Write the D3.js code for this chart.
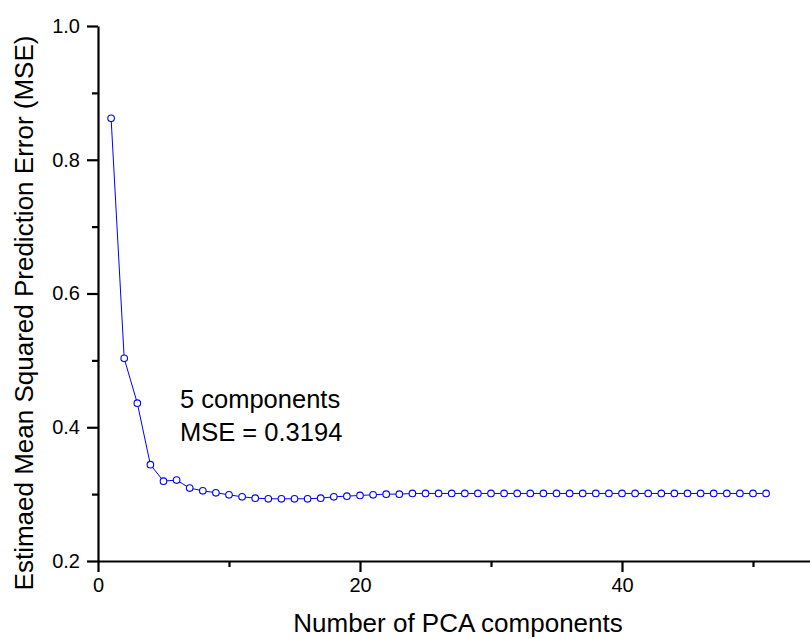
<!DOCTYPE html>
<html>
<head>
<meta charset="utf-8">
<script src="https://cdn.jsdelivr.net/npm/d3@7"></script>
<style>
  body { margin: 0; background: #fff; }
  text { font-family: "Liberation Sans", Arial, sans-serif; fill: #000; }
</style>
</head>
<body>
<div id="container"></div>
<script>
// number of PCA components, 1..51
let components = [];
for (let i = 1; i <= 51; i++) components.push(i);

// estimated MSE
let mseValues = [
  0.862, 0.503, 0.436, 0.344, 0.3194, 0.321, 0.309, 0.305, 0.302, 0.299,
  0.296, 0.294, 0.293, 0.293, 0.293, 0.293, 0.294, 0.296, 0.297, 0.298,
  0.299, 0.300, 0.300, 0.301, 0.301, 0.301, 0.301, 0.301, 0.301, 0.301,
  0.301, 0.301, 0.301, 0.301, 0.301, 0.301, 0.301, 0.301, 0.301, 0.301,
  0.301, 0.301, 0.301, 0.301, 0.301, 0.301, 0.301, 0.301, 0.301, 0.301,
  0.301
];

let xMajorTicks = [0, 20, 40];
let xMinorTicks = [10, 30, 50];
let yMajorTicks = [0.2, 0.4, 0.6, 0.8, 1.0];
let yMinorTicks = [0.3, 0.5, 0.7, 0.9];

let annotation = ["5 components", "MSE = 0.3194"];

let w = 810;
let h = 639;

let data = components.map((c, i) => ({ x: c, y: mseValues[i] }));

let viz = d3.select("#container")
  .append("svg")
  .attr("width", w)
  .attr("height", h);

let x = d3.scaleLinear().domain([0, 55]).range([98, 98 + 55 * 13.1]);
let y = d3.scaleLinear().domain([0.2, 1.0]).range([561, 26]);

// axes
viz.append("g")
  .attr("transform", "translate(0,561)")
  .call(d3.axisBottom(x).tickValues(xMinorTicks).tickSize(6).tickFormat(""))
  .call(g => g.select(".domain").remove());

viz.append("g")
  .attr("transform", "translate(0,561)")
  .call(d3.axisBottom(x).tickValues(xMajorTicks).tickSize(11).tickSizeOuter(0).tickPadding(6).tickFormat(d3.format("d")))
  .call(g => g.selectAll("text").attr("font-size", 20).attr("font-family", null));

viz.append("g")
  .attr("transform", "translate(98,0)")
  .call(d3.axisLeft(y).tickValues(yMinorTicks).tickSize(6).tickFormat(""))
  .call(g => g.select(".domain").remove());

viz.append("g")
  .attr("transform", "translate(98,0)")
  .call(d3.axisLeft(y).tickValues(yMajorTicks).tickSize(11).tickSizeOuter(0).tickPadding(7).tickFormat(d3.format(".1f")))
  .call(g => g.selectAll("text").attr("font-size", 20).attr("font-family", null));

viz.selectAll(".domain, .tick line")
  .attr("stroke", "#000")
  .attr("stroke-width", 2.2);

// line and markers
let line = d3.line().x(d => x(d.x)).y(d => y(d.y));

viz.append("path")
  .datum(data)
  .attr("d", line)
  .attr("fill", "none")
  .attr("stroke", "#0000ff")
  .attr("stroke-width", 1);

viz.selectAll(".pt").data(data).enter()
  .append("circle")
  .attr("class", "pt")
  .attr("cx", d => x(d.x))
  .attr("cy", d => y(d.y))
  .attr("r", 3.3)
  .attr("fill", "#fff")
  .attr("stroke", "#0000ff")
  .attr("stroke-width", 1.1);

// annotation
viz.selectAll(".note").data(annotation).enter()
  .append("text")
  .attr("class", "note")
  .attr("x", 180)
  .attr("y", (d, i) => 408 + i * 33)
  .attr("font-size", 25.5)
  .text(d => d);

// axis titles
viz.append("text")
  .attr("x", 458)
  .attr("y", 632)
  .attr("text-anchor", "middle")
  .attr("font-size", 26)
  .text("Number of PCA components");

viz.append("text")
  .attr("transform", "translate(33,313) rotate(-90)")
  .attr("text-anchor", "middle")
  .attr("font-size", 26)
  .text("Estimaed Mean Squared Prediction Error (MSE)");
</script>
</body>
</html>
